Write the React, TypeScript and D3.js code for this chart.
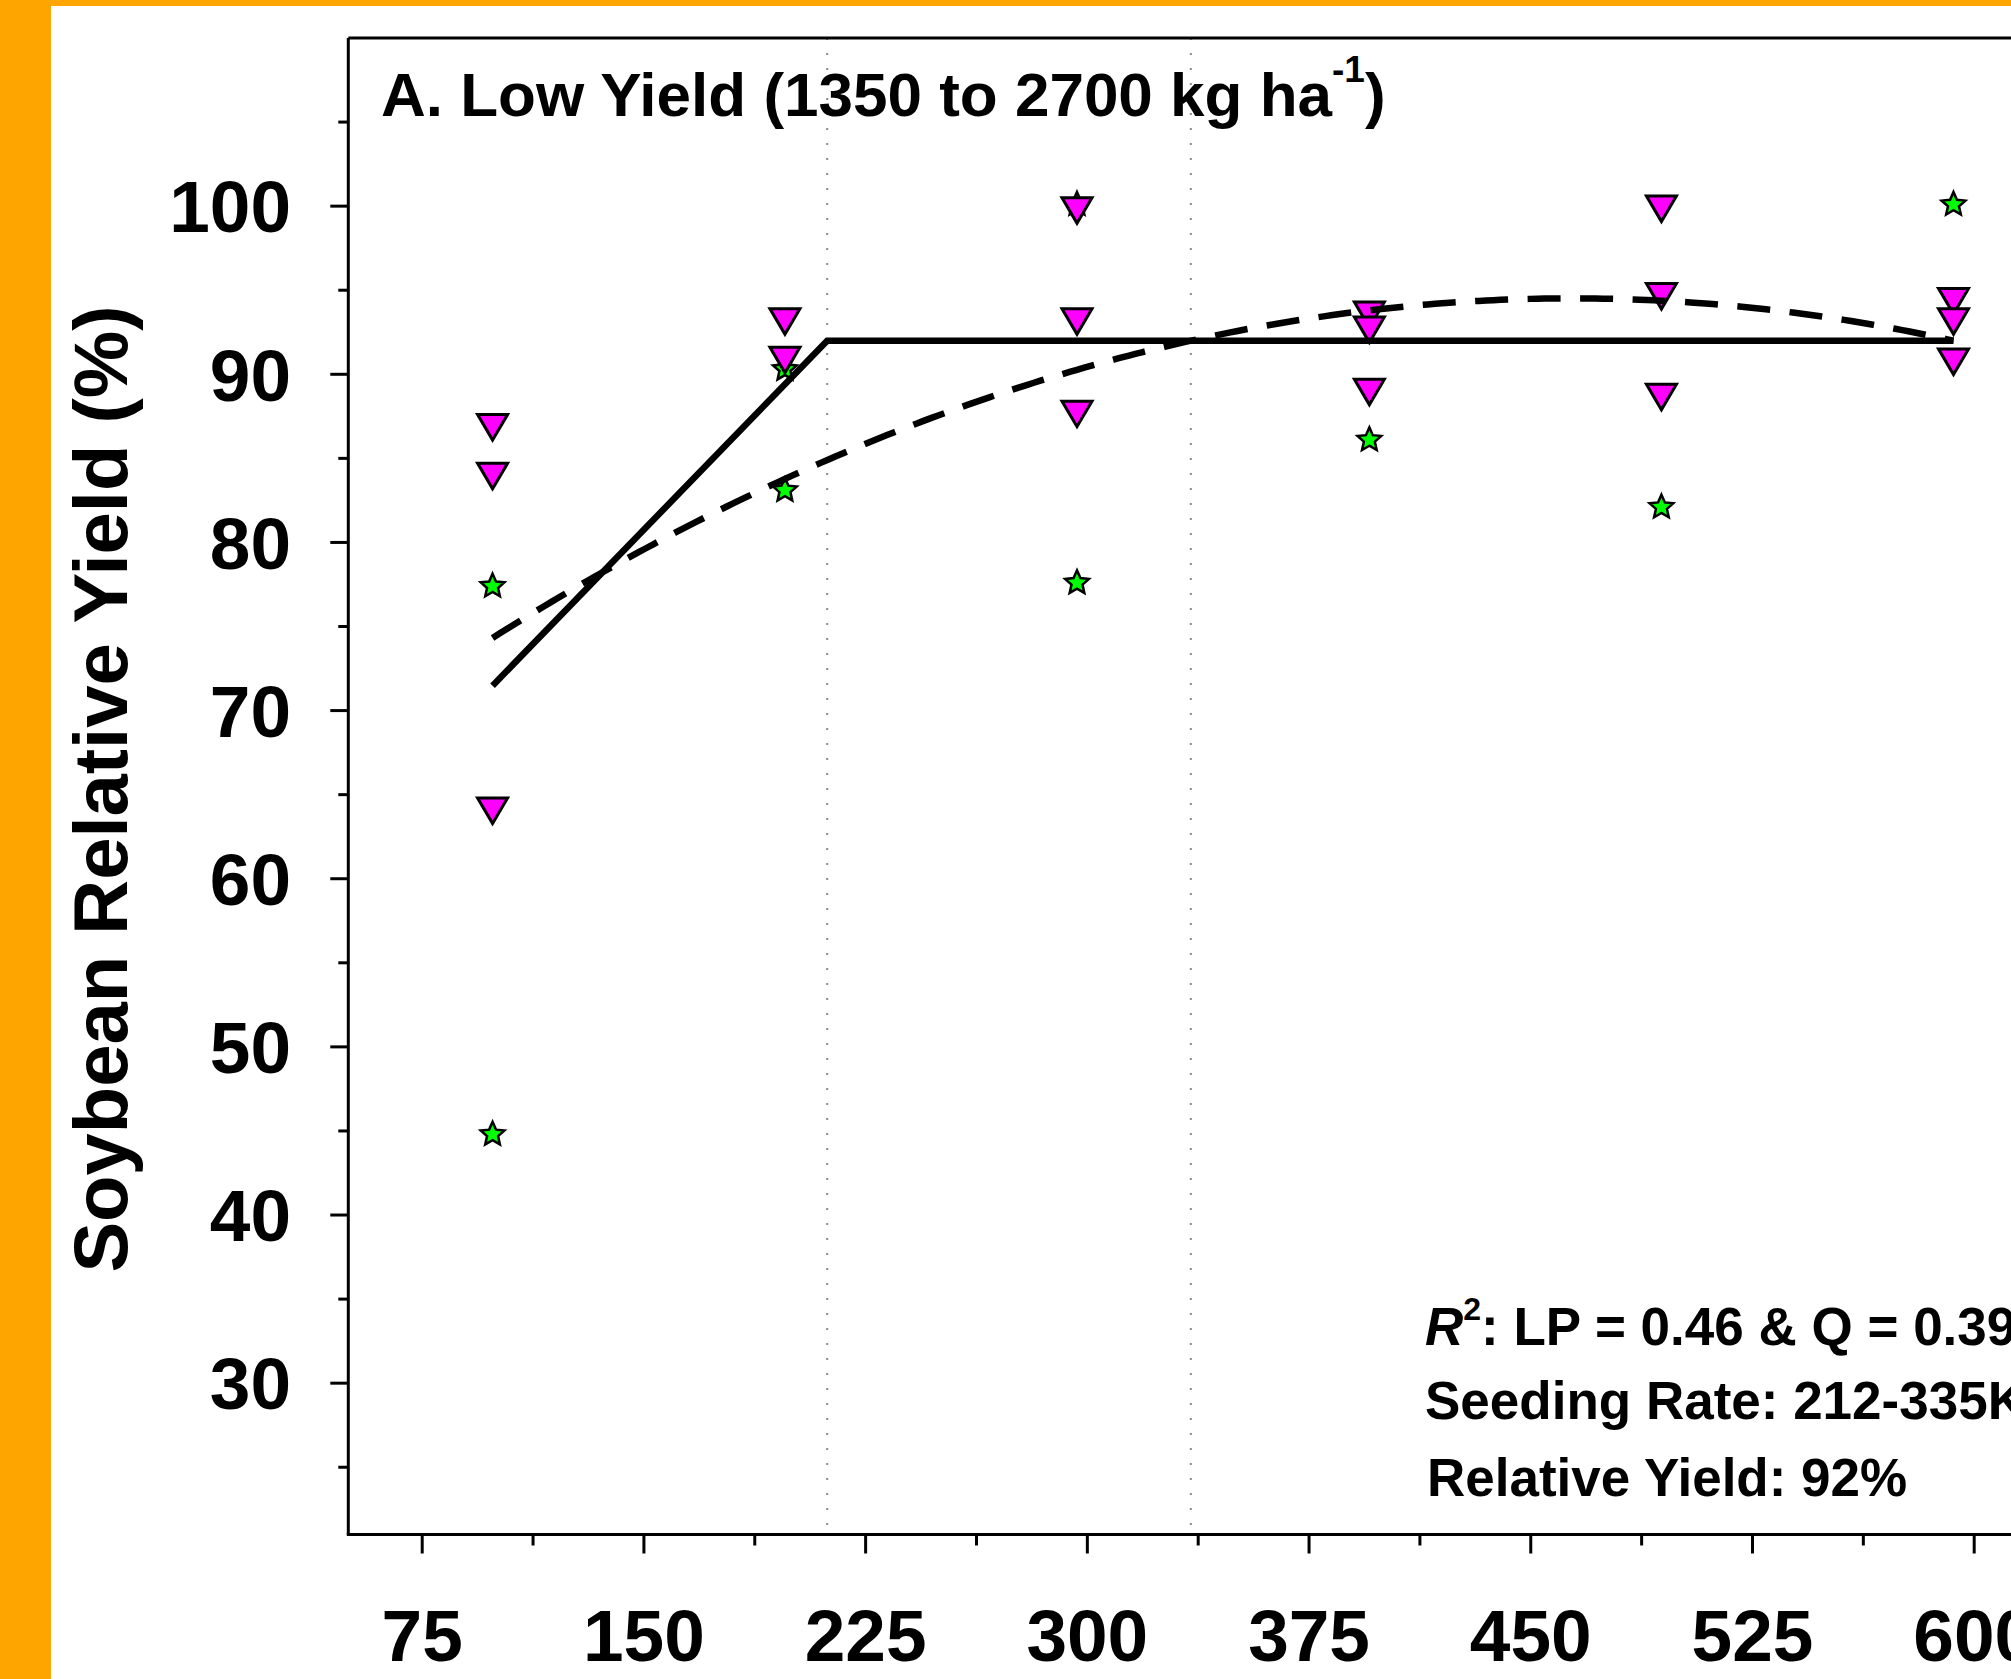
import React from 'react';
import * as d3 from 'd3';

// ---- data ----
const triangleRates = [98.8, 98.8, 98.8, 197.7, 197.7, 296.5, 296.5, 296.5, 395.4, 395.4, 395.4, 494.2, 494.2, 494.2, 593.0, 593.0, 593.0];
const triangleYields = [86.8, 83.9, 64.0, 93.1, 90.8, 99.7, 93.1, 87.6, 93.5, 92.6, 88.9, 99.8, 94.6, 88.6, 94.3, 93.1, 90.7];

const starRates = [98.8, 98.8, 197.7, 197.7, 296.5, 296.5, 395.4, 494.2, 593.0];
const starYields = [77.4, 44.8, 90.3, 83.1, 100.1, 77.6, 86.1, 82.1, 100.1];

// linear-plateau fit: intercept, slope, join point, plateau
const lpIntercept = 53.57;
const lpSlope = 0.1813;
const lpJoin = 212;
const lpPlateau = 92;
// quadratic fit coefficients a + b x + c x^2
const quadCoef = [61.92, 0.1405, -0.0001514];
const fitRange = [98.8, 593.0];

const optimalRange = [212, 335];

const yMajorTicks = [30, 40, 50, 60, 70, 80, 90, 100];
const yMinorTicks = [25, 35, 45, 55, 65, 75, 85, 95, 105];
const xMajorTicks = [75, 150, 225, 300, 375, 450, 525, 600];
const xMinorTicks = [112.5, 187.5, 262.5, 337.5, 412.5, 487.5, 562.5, 637.5];

const titleText = 'A. Low Yield (1350 to 2700 kg ha';
const yLabel = 'Soybean Relative Yield (%)';
const noteLines = [': LP = 0.46 & Q = 0.39', 'Seeding Rate: 212-335K', 'Relative Yield: 92%'];

// ---- layout ----
const W = 2011;
const H = 1679;
const FONT = '"Liberation Sans", Arial, Helvetica, sans-serif';

const x = d3.scaleLinear().domain([50, 650]).range([348.3, 2122]);
const y = d3.scaleLinear().domain([21, 110]).range([1534.5, 38]);

const trianglePath = 'M-15,-13.5L15,-13.5L0,12Z';
const starPath = (() => {
  const pts: [number, number][] = [];
  for (let i = 0; i < 10; i++) {
    const r = i % 2 === 0 ? 12.5 : 5.8;
    const a = (i * Math.PI) / 5;
    pts.push([r * Math.sin(a), -r * Math.cos(a)]);
  }
  return d3.line().curve(d3.curveLinearClosed)(pts) as string;
})();

export default function App() {
  const [x0, x1] = x.domain();
  const [yb, yt] = [y.range()[0], y.range()[1]];

  const lpLine = d3.line<number>()
    .x((d) => x(d))
    .y((d) => y(d < lpJoin ? lpIntercept + lpSlope * d : lpPlateau))([fitRange[0], lpJoin, fitRange[1]]) as string;

  const qSamples = d3.range(fitRange[0], fitRange[1] + 0.001, (fitRange[1] - fitRange[0]) / 200);
  const quadLine = d3.line<number>()
    .x((d) => x(d))
    .y((d) => y(quadCoef[0] + quadCoef[1] * d + quadCoef[2] * d * d))(qSamples) as string;

  const xl = x(x0);

  return (
    <div style={{ position: 'absolute', left: 0, top: 0 }}>
      <svg width={W} height={H} style={{ display: 'block', background: '#fff' }} fontFamily={FONT} fontWeight="bold">
        <rect x={0} y={0} width={W} height={H} fill="#fff" />
        <rect x={0} y={0} width={W} height={6} fill="#FFA500" />
        <rect x={0} y={0} width={51} height={H} fill="#FFA500" />

        {/* optimal range dotted lines */}
        {optimalRange.map((v) => (
          <line key={v} x1={x(v)} x2={x(v)} y1={yt} y2={yb} stroke="#8a8a8a" strokeWidth={2} strokeDasharray="2,13" />
        ))}

        {/* frame */}
        <line x1={xl} x2={x(x1)} y1={yt} y2={yt} stroke="#000" strokeWidth={3} />
        <line x1={xl} x2={xl} y1={yt} y2={yb} stroke="#000" strokeWidth={3} />
        <line x1={xl - 1.5} x2={x(x1)} y1={yb} y2={yb} stroke="#000" strokeWidth={3} />

        {/* y ticks */}
        {yMajorTicks.map((t) => (
          <g key={'ym' + t}>
            <line x1={xl - 18} x2={xl} y1={y(t)} y2={y(t)} stroke="#000" strokeWidth={3} />
            <text x={291} y={y(t)} dy="0.36em" textAnchor="end" fontSize={73}>{t}</text>
          </g>
        ))}
        {yMinorTicks.map((t) => (
          <line key={'yn' + t} x1={xl - 10} x2={xl} y1={y(t)} y2={y(t)} stroke="#000" strokeWidth={3} />
        ))}

        {/* x ticks */}
        {xMajorTicks.map((t) => (
          <g key={'xm' + t}>
            <line x1={x(t)} x2={x(t)} y1={yb} y2={yb + 19} stroke="#000" strokeWidth={3} />
            <text x={x(t)} y={1661} textAnchor="middle" fontSize={73}>{t}</text>
          </g>
        ))}
        {xMinorTicks.map((t) => (
          <line key={'xn' + t} x1={x(t)} x2={x(t)} y1={yb} y2={yb + 11} stroke="#000" strokeWidth={3} />
        ))}

        {/* y label */}
        <text transform={`translate(127,789) rotate(-90)`} textAnchor="middle" fontSize={76}>{yLabel}</text>

        {/* title */}
        <text x={381} y={116} fontSize={62}>
          {titleText}
          <tspan dy={-34} fontSize={37}>-1</tspan>
          <tspan dy={34} fontSize={62}>)</tspan>
        </text>

        {/* markers */}
        {starRates.map((r, i) => (
          <path key={'s' + i} d={starPath} transform={`translate(${x(r)},${y(starYields[i])})`} fill="#00FF00" stroke="#000" strokeWidth={2.5} />
        ))}
        {triangleRates.map((r, i) => (
          <path key={'t' + i} d={trianglePath} transform={`translate(${x(r)},${y(triangleYields[i])})`} fill="#FF00FF" stroke="#000" strokeWidth={3} />
        ))}

        {/* fits */}
        <path d={lpLine} fill="none" stroke="#000" strokeWidth={6.5} />
        <path d={quadLine} fill="none" stroke="#000" strokeWidth={6.5} strokeDasharray="33,19.5" />

        {/* notes */}
        <text x={1425} y={1345} fontSize={53}>
          <tspan fontStyle="italic">R</tspan>
          <tspan dy={-25} fontSize={32}>2</tspan>
          <tspan dy={25}>{noteLines[0]}</tspan>
        </text>
        <text x={1425} y={1419} fontSize={53}>{noteLines[1]}</text>
        <text x={1427} y={1496} fontSize={53}>{noteLines[2]}</text>
      </svg>
    </div>
  );
}
